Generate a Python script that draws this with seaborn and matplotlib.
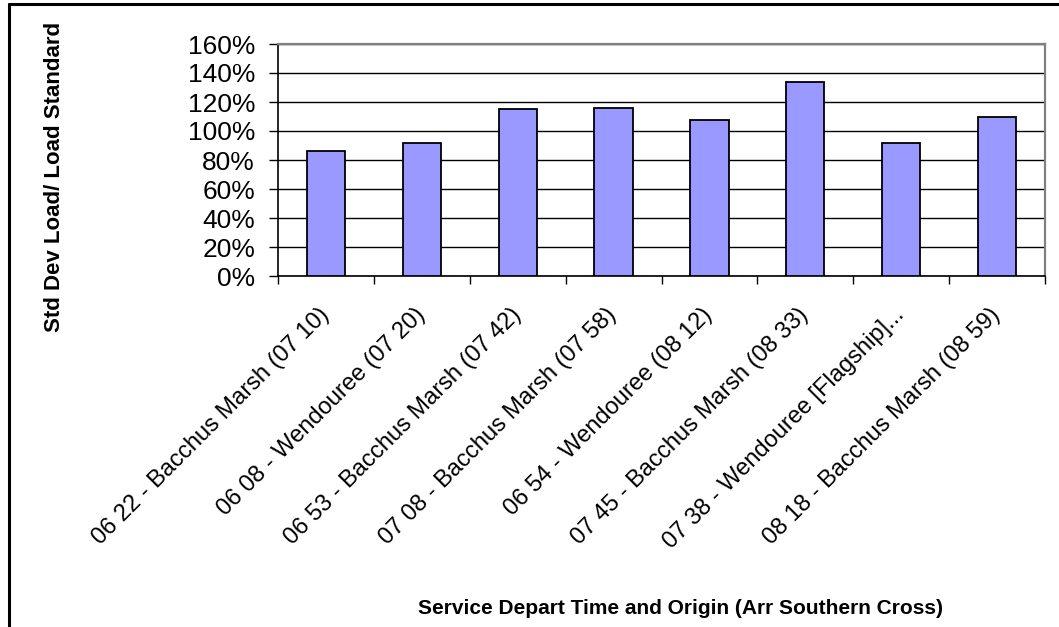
import matplotlib
matplotlib.use("Agg")
import matplotlib.pyplot as plt
import matplotlib.ticker as mticker
from matplotlib.lines import Line2D
from matplotlib.transforms import ScaledTranslation
import numpy as np
import pandas as pd
import seaborn as sns

# Services (departure - origin (arrival at Southern Cross))
services = [
    "06 22 - Bacchus Marsh (07 10)",
    "06 08 - Wendouree (07 20)",
    "06 53 - Bacchus Marsh (07 42)",
    "07 08 - Bacchus Marsh (07 58)",
    "06 54 - Wendouree (08 12)",
    "07 45 - Bacchus Marsh (08 33)",
    "07 38 - Wendouree [Flagship]...",
    "08 18 - Bacchus Marsh (08 59)",
]
# Standard deviation of load divided by load standard
std_dev_ratio = [0.86, 0.92, 1.15, 1.16, 1.075, 1.34, 0.92, 1.10]
y_ticks = [0.0, 0.2, 0.4, 0.6, 0.8, 1.0, 1.2, 1.4, 1.6]

sns.set_theme(style="white")
plt.rcParams["font.family"] = ["Liberation Sans", "DejaVu Sans"]

W, H = 1059, 627
fig = plt.figure(figsize=(W / 100, H / 100), dpi=100)
fig.patch.set_facecolor("white")

ax = fig.add_axes([278 / W, 1 - 276 / H, (1045 - 278) / W, (276 - 44) / H])

df = pd.DataFrame({"service": services, "ratio": std_dev_ratio})
sns.barplot(
    data=df, x="service", y="ratio", color="#9999FF", saturation=1,
    width=0.4, edgecolor="black", linewidth=1.3, ax=ax, zorder=3,
)

ax.set_ylim(y_ticks[0], y_ticks[-1])
ax.set_yticks(y_ticks)
ax.yaxis.set_major_formatter(mticker.PercentFormatter(xmax=1, decimals=0))
ax.set_axisbelow(True)
ax.yaxis.grid(True, color="black", linewidth=1.0)
ax.xaxis.grid(False)

# Frame of the plot area
for side in ("top", "right"):
    ax.spines[side].set_color("#808080")
    ax.spines[side].set_linewidth(1.6)
for side in ("left", "bottom"):
    ax.spines[side].set_color("black")
    ax.spines[side].set_linewidth(1.2)

ax.tick_params(axis="y", which="major", left=True, length=6.5, width=1.0,
               color="black", direction="out", pad=10, labelsize=19,
               labelcolor="black")

# Category labels at the bar centres, tick marks between categories
ax.set_xticks(range(len(services)))
ax.set_xticklabels(services, rotation=45, ha="right", va="top",
                   rotation_mode="anchor")
ax.set_xticks(np.arange(-0.5, len(services), 1.0), minor=True)
ax.tick_params(axis="x", which="major", bottom=True, length=0, pad=20,
               labelsize=17, labelcolor="black")
ax.tick_params(axis="x", which="minor", bottom=True, length=5.5, width=1.0,
               color="black", direction="out")
shift = ScaledTranslation(-8 / 100, 0, fig.dpi_scale_trans)
for lab in ax.get_xticklabels():
    lab.set_transform(lab.get_transform() + shift)

ax.set_xlabel("")
ax.set_ylabel("")

fig.text(55 / W, 1 - 177 / H, "Std Dev Load/ Load Standard", rotation=90,
         ha="center", va="center", fontsize=16, fontweight="bold",
         color="black")
fig.text(680 / W, 1 - 609 / H,
         "Service Depart Time and Origin (Arr Southern Cross)",
         ha="center", va="center", fontsize=15, fontweight="bold",
         color="black")

# Chart border
fig.add_artist(Line2D([9 / W, 1], [1 - 4 / H, 1 - 4 / H],
                      transform=fig.transFigure, color="black", lw=2.2))
fig.add_artist(Line2D([9 / W, 9 / W], [0, 1 - 4 / H],
                      transform=fig.transFigure, color="black", lw=2.2))

fig.savefig("out.png", dpi=100)
